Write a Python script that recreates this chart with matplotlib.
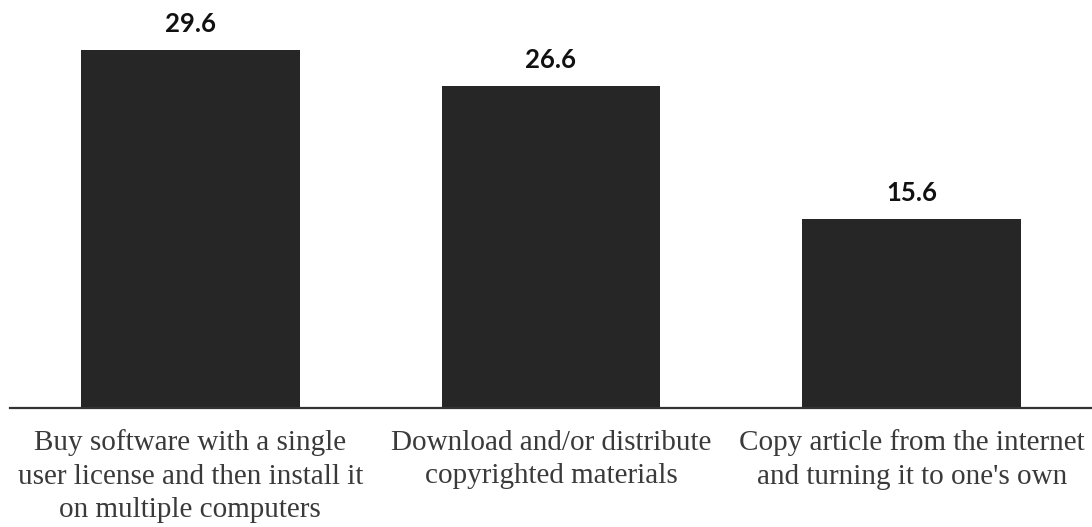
import matplotlib
matplotlib.use("Agg")
import matplotlib.pyplot as plt

behaviours = [
    "Buy software with a single\nuser license and then install it\non multiple computers",
    "Download and/or distribute\ncopyrighted materials",
    "Copy article from the internet\nand turning it to one's own",
]
percentages = [29.6, 26.6, 15.6]

fig = plt.figure(figsize=(10.92, 5.27), dpi=100)
ax = fig.add_axes([10 / 1092, 119 / 527, 1 - 10 / 1092, 408 / 527])

positions = range(len(behaviours))
bars = ax.bar(positions, percentages, width=0.607, color="#262626", zorder=2)

# value labels above each bar
for bar, val in zip(bars, percentages):
    ax.annotate(f"{val:.1f}", xy=(bar.get_x() + bar.get_width() / 2, val),
                xytext=(0, 10), textcoords="offset points",
                ha="center", va="bottom", fontsize=18.5, fontweight="bold",
                family="Lato", color="#111111")

ax.set_xlim(-0.5, 2.5)
ax.set_ylim(0, 33.7)
ax.set_xticks(list(positions))
ax.set_xticklabels(behaviours, family="Liberation Serif", fontsize=21,
                   color="#3a3a3a", linespacing=1.36)
ax.tick_params(axis="x", length=0, pad=15.5)
ax.set_yticks([])

for side in ("top", "left", "right"):
    ax.spines[side].set_visible(False)
ax.spines["bottom"].set_color("#333333")
ax.spines["bottom"].set_linewidth(1.6)

fig.savefig("out.png", dpi=100)
